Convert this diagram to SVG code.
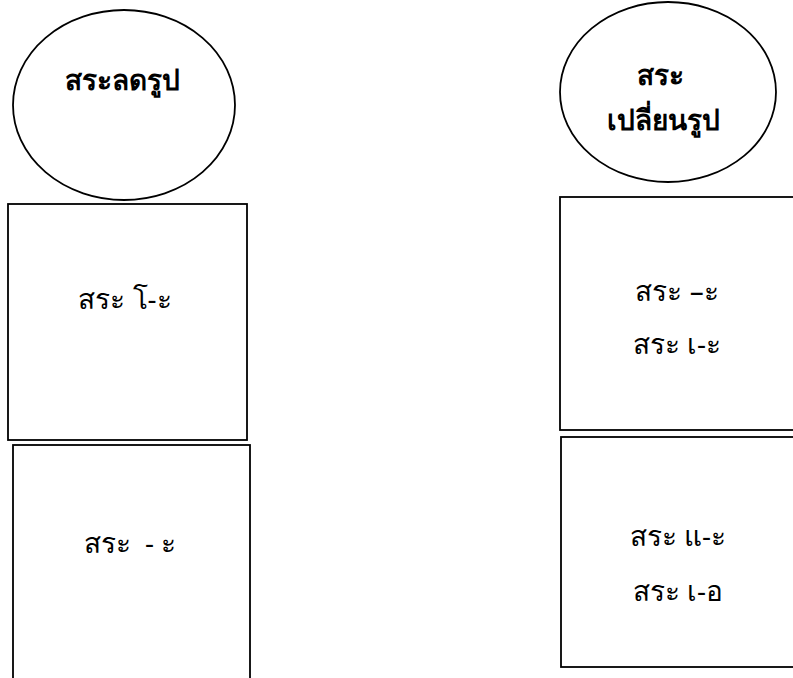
<svg xmlns="http://www.w3.org/2000/svg" width="793" height="678" viewBox="0 0 793 678">
<style>
.shape{fill:#fff;stroke:#000;stroke-width:1.8}
.t{font-family:"Noto Sans","DejaVu Sans",sans-serif;font-size:28px;fill:#000;text-anchor:middle}
.b{font-weight:bold;font-size:28px}
</style>
<rect width="793" height="678" fill="#fff"/>
<g id="connectors"></g>
<g id="node-lod">
<ellipse class="shape" cx="124" cy="105" rx="111" ry="95"/>
<text class="t b" x="122" y="90">สระลดรูป</text>
</g>
<g id="node-lod-1">
<rect class="shape" x="8" y="204" width="239" height="236"/>
<text class="t" x="125" y="309">สระ โ-ะ</text>
</g>
<g id="node-lod-2">
<rect class="shape" x="13" y="445" width="237" height="240"/>
<text class="t" x="130" y="553" xml:space="preserve">สระ  - ะ</text>
</g>
<g id="node-plian">
<ellipse class="shape" cx="668" cy="92" rx="108" ry="90"/>
<text class="t b" x="660" y="85">สระ</text>
<text class="t b" x="663" y="130">เปลี่ยนรูป</text>
</g>
<g id="node-plian-1">
<rect class="shape" x="560" y="197" width="240" height="233"/>
<text class="t" x="677" y="301">สระ –ะ</text>
<text class="t" x="677" y="354">สระ เ-ะ</text>
</g>
<g id="node-plian-2">
<rect class="shape" x="561" y="437" width="240" height="230"/>
<text class="t" x="678" y="546">สระ แ-ะ</text>
<text class="t" x="678" y="601">สระ เ-อ</text>
</g>
</svg>
